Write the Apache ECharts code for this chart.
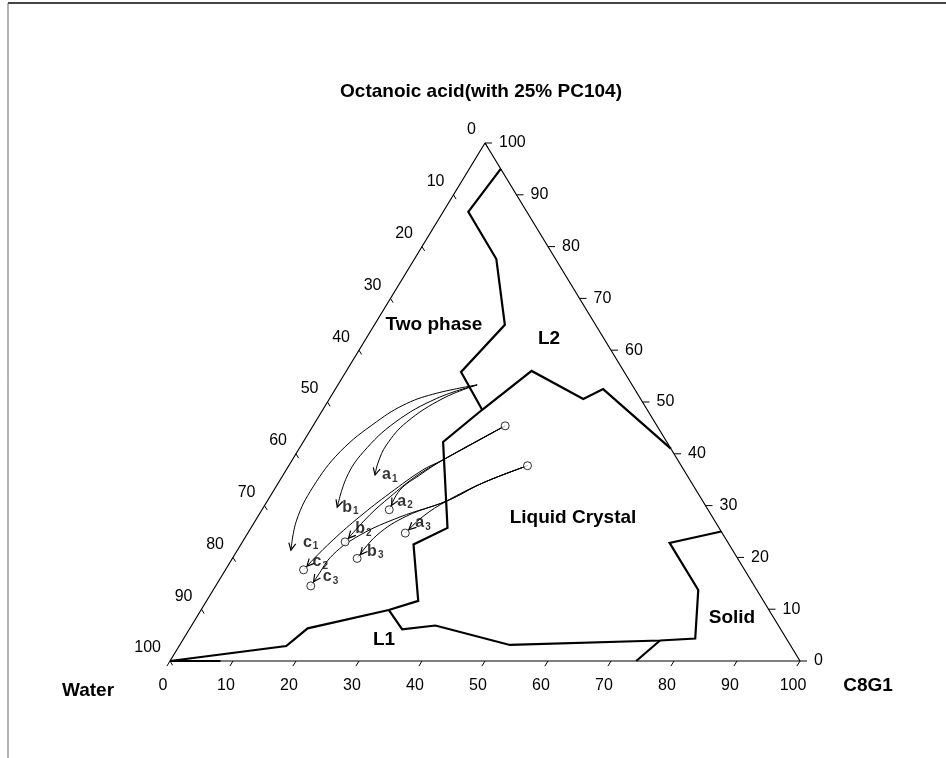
<!DOCTYPE html>
<html>
<head>
<meta charset="utf-8">
<script src="https://cdn.jsdelivr.net/npm/echarts@6/dist/echarts.min.js"></script>
<style>
html,body{margin:0;padding:0;background:#fff;}
#chart{width:946px;height:758px;}
</style>
</head>
<body>
<div id="chart"></div>
<script>
// Phase diagram: Water / Octanoic acid (with 25% PC104) / C8G1.
// Every composition is written as [C8G1 %, Octanoic acid %]; water is the rest.

const tickValues = [0, 10, 20, 30, 40, 50, 60, 70, 80, 90, 100];
const tickLabels = ['0', '10', '20', '30', '40', '50', '60', '70', '80', '90', '100'];

// Phase boundaries
const twoPhaseL2Boundary = [[5, 95], [4, 86.7], [13, 77.6], [20.7, 64.9], [18.3, 55.8], [25.3, 48.5]];
const liquidCrystalUpper = [[59, 41], [42.5, 52.5], [40.3, 50.6], [29.4, 56], [25.3, 48.5], [22.2, 42.3],
  [31.2, 25.7], [27.4, 22.5], [33.6, 11.6], [29.8, 9.85], [18.7, 6.3], [17, 2.9], [0, 0]];
const liquidCrystalLower = [[29.8, 9.85], [33.8, 6.1], [38.7, 6.85], [52.4, 3.1], [75.8, 3.96], [81.2, 4.34],
  [77, 13.7], [67.9, 22.8], [75, 25]];
const solidBoundary = [[75.8, 3.96], [74, 0]];
const waterCornerBoundary = [[0, 0], [8, 0]];

// Dilution paths
const pathA1 = [[22.1, 53.3], [18.0, 50.7], [14.5, 46.1], [13.5, 41.7], [13.9, 38.2], [14.6, 35.9]];
const pathB1 = [[22.1, 53.3], [17.0, 50.7], [12.7, 46.1], [10.5, 40.3], [10.3, 35.5], [11.7, 29.7]];
const pathC1 = [[22.1, 53.3], [16.5, 51.7], [12.7, 49.7], [9.7, 46.2], [6.8, 40.4], [5.9, 33.6], [6.5, 27.2], [8.5, 21.4]];
const pathA2 = [[30.5, 45.4], [23.9, 38.8], [21.7, 35.9], [20.0, 33.0], [20.2, 29.2]];
const pathB2 = [[30.5, 45.4], [23.9, 38.8], [21.1, 35.5], [19.1, 31.7], [17.6, 28.2], [16.3, 23.0]];
const pathC2 = [[30.5, 45.4], [23.9, 38.8], [21.7, 36.9], [18.7, 32.4], [16.2, 27.9], [14.2, 23.4], [12.9, 19.5], [12.4, 17.6]];
const pathA3 = [[37.9, 37.7], [32.5, 34.4], [28.5, 30.9], [26.2, 27.9], [25.0, 24.7]];
const pathB3 = [[37.9, 37.7], [32.5, 34.4], [28.5, 30.9], [23.6, 28.0], [20.7, 24.3], [19.8, 19.8]];
const pathC3 = [[37.9, 37.7], [32.5, 34.4], [28.5, 30.9], [22.6, 27.8], [18.0, 24.3], [15.6, 20.5], [15.2, 16.2], [15.1, 14.5]];

const pathLetters = ['a', 'b', 'c', 'a', 'b', 'c', 'a', 'b', 'c'];
const pathSubscripts = ['1', '1', '1', '2', '2', '2', '3', '3', '3'];
const pathEndsInCircle = [false, false, false, true, true, true, true, true, true];
const startCircles = [[30.5, 45.4], [37.9, 37.7]];

const paths = [pathA1, pathB1, pathC1, pathA2, pathB2, pathC2, pathA3, pathB3, pathC3];

// label placement next to each path end (pixels)
const pathLabelOffsets = [[7, 0], [5, 0], [12, -8], [8, -8], [10, -13], [9, -8], [10, -10], [10, -7], [12, -9]];

const FONT = '"Liberation Sans", Arial, sans-serif';
const INK = '#000';

// ternary [C8G1, acid] -> plot plane (x along the base, y = acid height)
const toXY = ([c, a]) => [c + a / 2, a];

const chart = echarts.init(document.getElementById('chart'), null, { renderer: 'canvas' });

const lineBase = { type: 'line', symbol: 'none', silent: true, animation: false, clip: false };

function tickSeries(points, tickVec, labelShift, align) {
  return {
    type: 'custom',
    silent: true,
    animation: false,
    clip: false,
    data: points.map((p, i) => [p[0], p[1], i]),
    renderItem: (params, api) => {
      const pt = api.coord([api.value(0), api.value(1)]);
      const i = api.value(2);
      return {
        type: 'group',
        children: [
          {
            type: 'line',
            shape: { x1: pt[0], y1: pt[1], x2: pt[0] + tickVec[0], y2: pt[1] + tickVec[1] },
            style: { stroke: INK, lineWidth: 1 }
          },
          {
            type: 'text',
            x: pt[0] + labelShift[0],
            y: pt[1] + labelShift[1],
            style: {
              text: tickLabels[i],
              font: '16px ' + FONT,
              fill: INK,
              align: align, verticalAlign: 'middle',
              textAlign: align, textVerticalAlign: 'middle'
            }
          }
        ]
      };
    }
  };
}

const series = [];

// triangle frame
series.push(Object.assign({}, lineBase, {
  data: [[0, 0], [100, 0], [0, 100], [0, 0]].map(toXY),
  lineStyle: { color: INK, width: 1.2 },
  z: 2
}));

// phase boundaries
[twoPhaseL2Boundary, liquidCrystalUpper, liquidCrystalLower, solidBoundary, waterCornerBoundary].forEach(b => {
  series.push(Object.assign({}, lineBase, {
    data: b.map(toXY),
    lineStyle: { color: INK, width: 2.2, join: 'miter' },
    z: 3
  }));
});

// dilution paths
paths.forEach(p => {
  series.push(Object.assign({}, lineBase, {
    data: p.map(toXY),
    smooth: 0.4,
    lineStyle: { color: INK, width: 1 },
    z: 4
  }));
});

// arrowheads at the end of each path
series.push({
  type: 'custom',
  silent: true,
  animation: false,
  clip: false,
  z: 5,
  data: paths.map((p, i) => {
    const e = toXY(p[p.length - 1]);
    const q = toXY(p[p.length - 2]);
    return [e[0], e[1], q[0], q[1], pathEndsInCircle[i] ? 1 : 0];
  }),
  renderItem: (params, api) => {
    const p = api.coord([api.value(0), api.value(1)]);
    const q = api.coord([api.value(2), api.value(3)]);
    let dx = p[0] - q[0], dy = p[1] - q[1];
    const len = Math.hypot(dx, dy) || 1;
    dx /= len; dy /= len;
    const back = api.value(4) ? 5 : 0;
    const tip = [p[0] - dx * back, p[1] - dy * back];
    const base = [tip[0] - dx * 7, tip[1] - dy * 7];
    const w1 = [base[0] - dy * 3.5, base[1] + dx * 3.5];
    const w2 = [base[0] + dy * 3.5, base[1] - dx * 3.5];
    return {
      type: 'polyline',
      shape: { points: [w1, tip, w2] },
      style: { stroke: INK, lineWidth: 1.2, fill: null }
    };
  }
});

// open circles: path starts and ends
series.push({
  type: 'scatter',
  silent: true,
  animation: false,
  z: 6,
  symbol: 'circle',
  symbolSize: 8,
  itemStyle: { color: '#fff', borderColor: INK, borderWidth: 1 },
  data: startCircles.concat(paths.filter((p, i) => pathEndsInCircle[i]).map(p => p[p.length - 1])).map(toXY)
});

// path labels (letter + subscript)
series.push({
  type: 'scatter',
  silent: true,
  animation: false,
  z: 7,
  symbolSize: 0,
  data: paths.map((p, i) => ({
    value: toXY(p[p.length - 1]),
    label: {
      show: true,
      position: 'right',
      distance: 0,
      offset: pathLabelOffsets[i],
      formatter: '{m|' + pathLetters[i] + '}{s|' + pathSubscripts[i] + '}'
    }
  })),
  label: {
    rich: {
      m: { fontSize: 16, fontWeight: 'bold', fontFamily: FONT, color: INK },
      s: { fontSize: 10, fontWeight: 'bold', fontFamily: FONT, color: INK, padding: [8, 0, 0, 1] }
    }
  }
});

// axis ticks and numbers
series.push(tickSeries(tickValues.map(v => toXY([v, 0])), [-3.1, 5.1], [-7, 25], 'center'));
series.push(tickSeries(tickValues.map(v => toXY([100 - v, v])), [7, 0], [14, 0], 'left'));
series.push(tickSeries(tickValues.map(v => toXY([0, 100 - v])), [2.6, 4.3], [-9, -13], 'right'));

function label(text, x, y, size, weight, align) {
  return {
    type: 'text', x: x, y: y, silent: true,
    style: {
      text: text, font: (weight || 'bold') + ' ' + size + 'px ' + FONT, fill: INK,
      align: align || 'center', verticalAlign: 'middle',
      textAlign: align || 'center', textVerticalAlign: 'middle'
    }
  };
}

chart.setOption({
  animation: false,
  backgroundColor: '#fff',
  grid: { left: 170, right: 146, top: 143, bottom: 97 },
  xAxis: { type: 'value', min: 0, max: 100, show: false },
  yAxis: { type: 'value', min: 0, max: 100, show: false },
  graphic: [
    { type: 'line', silent: true, shape: { x1: 8, y1: 3, x2: 946, y2: 3 }, style: { stroke: '#444', lineWidth: 2 } },
    { type: 'line', silent: true, shape: { x1: 8, y1: 3, x2: 8, y2: 758 }, style: { stroke: '#666', lineWidth: 1 } },
    label('Octanoic acid(with 25% PC104)', 481, 92, 19, 'bold'),
    label('Two phase', 434, 325, 19, 'bold'),
    label('L2', 549, 339, 19, 'bold'),
    label('Liquid Crystal', 573, 518, 19, 'bold'),
    label('Solid', 732, 618, 19, 'bold'),
    label('L1', 384, 640, 19, 'bold'),
    label('Water', 88, 691, 19, 'bold'),
    label('C8G1', 868, 686, 19, 'bold')
  ],
  series: series
});
</script>
</body>
</html>
